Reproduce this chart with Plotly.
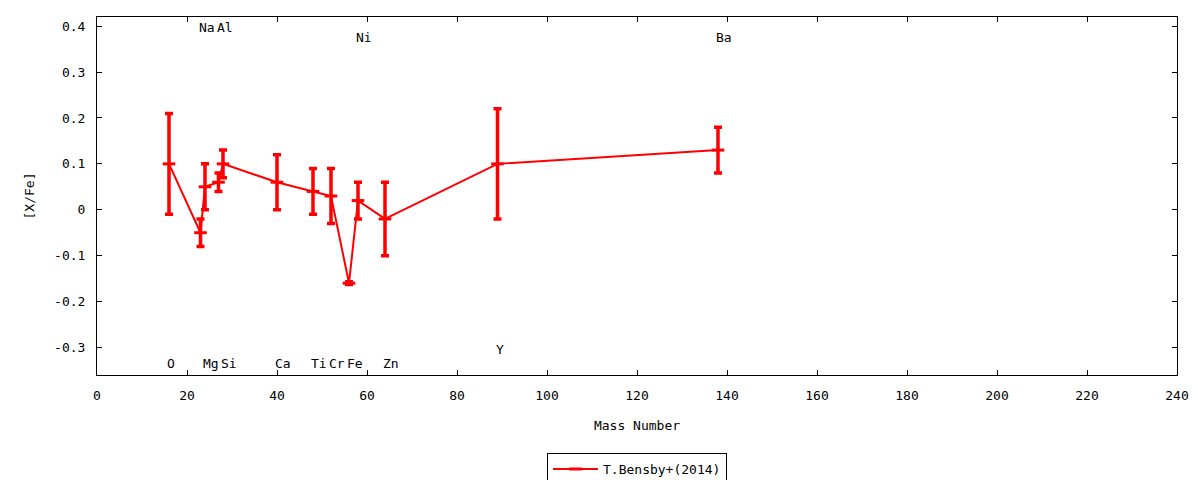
import plotly.graph_objects as go

# abundance ratios (T. Bensby et al. 2014) versus mass number
elements = ["O", "Na", "Mg", "Al", "Si", "Ca", "Ti", "Cr", "Fe", "Ni", "Zn", "Y", "Ba"]
mass_number = [16, 23, 24, 27, 28, 40, 48, 52, 56, 58, 64, 89, 138]
x_fe = [0.10, -0.05, 0.05, 0.06, 0.10, 0.06, 0.04, 0.03, -0.16, 0.02, -0.02, 0.10, 0.13]
x_fe_err = [0.11, 0.03, 0.05, 0.02, 0.03, 0.06, 0.05, 0.06, 0.003, 0.04, 0.08, 0.12, 0.05]
label_y = [-0.335, 0.397, -0.335, 0.397, -0.335, -0.335, -0.335, -0.335, -0.335,
           0.375, -0.335, -0.305, 0.375]

x_ticks = list(range(0, 241, 20))
y_ticks = [-0.3, -0.2, -0.1, 0, 0.1, 0.2, 0.3, 0.4]
y_ticktext = ["-0.3", "-0.2", "-0.1", "0", "0.1", "0.2", "0.3", "0.4"]

FONT = "DejaVu Sans Mono"
RED = "#ff0000"

fig = go.Figure()
fig.add_trace(go.Scatter(
    x=mass_number, y=x_fe, name="T.Bensby+(2014)",
    mode="lines+markers",
    line=dict(color=RED, width=2),
    marker=dict(symbol="line-ew", size=9, color=RED, line=dict(color=RED, width=3)),
    error_y=dict(type="data", array=x_fe_err, color=RED, thickness=3.5, width=4),
))

for el, a, ly in zip(elements, mass_number, label_y):
    fig.add_annotation(x=a, y=ly, text=el, showarrow=False, xanchor="left",
                       yanchor="middle", xshift=-4, font=dict(family=FONT, size=13, color="black"))

axis_common = dict(showline=True, linecolor="black", linewidth=1, mirror="ticks",
                   ticks="inside", ticklen=5, tickcolor="black", showgrid=False,
                   zeroline=False, tickfont=dict(family=FONT, size=13, color="black"))

fig.update_xaxes(range=[0, 240], tickvals=x_ticks, ticklabelstandoff=8,
                 title=dict(text="Mass Number", standoff=19,
                            font=dict(family=FONT, size=13, color="black")),
                 **axis_common)
fig.update_yaxes(range=[-0.36, 0.42], tickvals=y_ticks, ticktext=y_ticktext,
                 ticklabelstandoff=8,
                 title=dict(text="[X/Fe]", standoff=16,
                            font=dict(family=FONT, size=13, color="black")),
                 **axis_common)

# the page body has an 8px margin, so the figure is offset by 8px
fig.update_layout(
    width=1192, height=472,
    margin=dict(l=89, r=23, t=9, b=105, autoexpand=False),
    plot_bgcolor="white", paper_bgcolor="white",
    font=dict(family=FONT, size=13, color="black"),
    showlegend=True,
    legend=dict(x=0.5, xanchor="center", y=-0.218, yanchor="top",
                bordercolor="black", borderwidth=1, bgcolor="white",
                itemwidth=45,
                font=dict(family=FONT, size=13, color="black")),
)

fig.write_html("out.html")
